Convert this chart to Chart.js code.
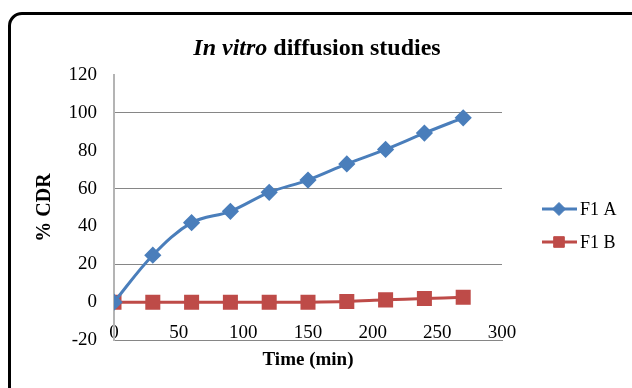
<!DOCTYPE html>
<html>
<head>
<meta charset="utf-8">
<script src="https://cdn.jsdelivr.net/npm/chart.js@4.4.1/dist/chart.umd.min.js"></script>
<style>
  body { margin: 0; background: #fff; }
  #wrap { position: relative; width: 632px; height: 388px; overflow: hidden; }
  #frame { position: absolute; left: 8px; top: 12px; width: 640px; height: 400px;
           border: 3px solid #000; border-radius: 14px; box-sizing: border-box; }
  #title { position: absolute; left: 0; top: 35px; width: 634px; text-align: center;
           font: bold 24px "Liberation Serif", serif; line-height: 24px; color: #000; }
  canvas { position: absolute; left: 0; top: 0; }
</style>
</head>
<body>
<div id="wrap">
  <div id="frame"></div>
  <canvas id="chart" width="632" height="388"></canvas>
  <div id="title"><i>In vitro</i> diffusion studies</div>
</div>
<script>
// time points (min)
const timeMin = [0, 30, 60, 90, 120, 150, 180, 210, 240, 270];
// % CDR
const f1A = [0, 24.8, 42, 48, 58, 64.5, 73, 80.7, 89.3, 97.4];
const f1B = [0, 0, 0, 0, 0, 0, 0.3, 1.2, 1.9, 2.6];
const seriesNames = ['F1 A', 'F1 B'];
const seriesColors = ['#4a7ebb', '#be4b48'];

const toPoints = (arr) => arr.map((v, i) => ({x: timeMin[i], y: v}));

// legend drawn as line + marker, like excel does
const legendPlugin = {
    id: 'sideLegend',
    afterDraw(chart) {
        const ctx = chart.ctx;
        const rows = [209, 242];
        chart.data.datasets.forEach((ds, i) => {
            const y = rows[i];
            ctx.save();
            ctx.strokeStyle = ds.borderColor;
            ctx.fillStyle = ds.backgroundColor;
            ctx.lineWidth = 3;
            ctx.beginPath();
            ctx.moveTo(542, y);
            ctx.lineTo(577, y);
            ctx.stroke();
            ctx.lineWidth = 1;
            Chart.helpers.drawPoint(ctx, {
                pointStyle: ds.pointStyle,
                radius: ds.pointStyle === 'rect' ? 7.5 : 6.5,
                borderWidth: 1
            }, 559, y);
            ctx.fillStyle = '#000';
            ctx.font = '18px "Liberation Serif"';
            ctx.textBaseline = 'middle';
            ctx.fillText(ds.label, 580, y + 1);
            ctx.restore();
        });
    }
};

new Chart(document.getElementById('chart'), {
    type: 'line',
    data: {
        datasets: [{
            label: seriesNames[0],
            data: toPoints(f1A),
            borderColor: seriesColors[0],
            backgroundColor: seriesColors[0],
            pointBorderColor: seriesColors[0],
            borderWidth: 3,
            pointStyle: 'rectRot',
            pointRadius: 6.5,
            tension: 0.35
        }, {
            label: seriesNames[1],
            data: toPoints(f1B),
            borderColor: seriesColors[1],
            backgroundColor: seriesColors[1],
            pointBorderColor: seriesColors[1],
            borderWidth: 3,
            pointStyle: 'rect',
            pointRadius: 8.5,
            tension: 0.35
        }]
    },
    options: {
        responsive: false,
        animation: false,
        layout: { padding: { top: 75, right: 130, left: 0, bottom: 0 } },
        scales: {
            x: {
                type: 'linear',
                min: 0,
                max: 300,
                afterFit: (scale) => { scale.height = 48; },
                grid: { display: false },
                border: { display: true, color: '#868686', width: 1 },
                ticks: {
                    stepSize: 50,
                    mirror: true,   // labels sit just above the axis line, as in the original
                    padding: -4,
                    color: '#000',
                    font: { family: 'Liberation Serif', size: 19 }
                },
                title: {
                    display: true,
                    text: 'Time (min)',
                    color: '#000',
                    font: { family: 'Liberation Serif', size: 19, weight: 'bold' },
                    padding: { top: 0, bottom: 17 }
                }
            },
            y: {
                min: -20,
                max: 120,
                afterFit: (scale) => { scale.width = 114; },
                grid: {
                    drawTicks: false,
                    color: (c) => ((c.tick.value + 20) % 40 === 0 ? '#868686' : 'rgba(0,0,0,0)')
                },
                border: { display: true, color: '#b4b4b4', width: 2 },
                ticks: {
                    stepSize: 20,
                    padding: 17,
                    color: '#000',
                    font: { family: 'Liberation Serif', size: 19 }
                },
                title: {
                    display: true,
                    text: '% CDR',
                    color: '#000',
                    font: { family: 'Liberation Serif', size: 20, weight: 'bold' },
                    padding: { top: 33, bottom: 0 }
                }
            }
        },
        plugins: {
            legend: { display: false },
            tooltip: { enabled: false }
        }
    },
    plugins: [legendPlugin]
});
</script>
</body>
</html>
